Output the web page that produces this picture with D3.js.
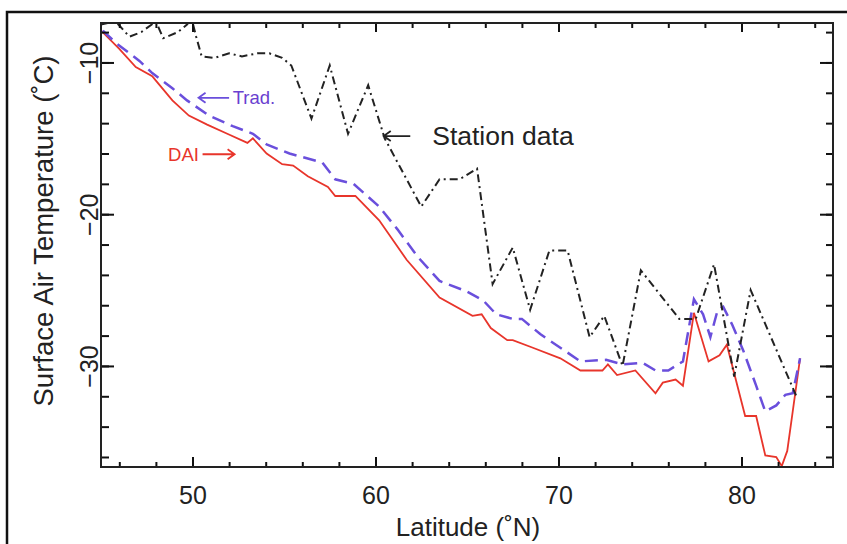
<!DOCTYPE html>
<html>
<head>
<meta charset="utf-8">
<script src="https://cdn.jsdelivr.net/npm/d3@7"></script>
<style>
  body { margin: 0; background: #fff; }
  svg { display: block; font-family: "Liberation Sans", Arial, Helvetica, sans-serif; }
</style>
</head>
<body>
<div id="chart"></div>
<script>
// station data (black dash-dot)
var stationLat = [45.0, 45.8, 46.55, 47.2, 48.0, 48.4, 49.2, 49.7, 49.95, 50.2, 50.5, 51.2, 52.0, 52.7, 53.55, 54.2, 54.9, 55.4,
    56.5, 57.5, 58.5, 59.6, 60.5, 62.5, 63.5, 64.6, 65.55, 66.4, 67.5, 68.45, 69.5, 70.5, 71.7, 72.5, 73.5, 74.5,
    76.6, 77.5, 78.5, 79.6, 80.5, 83.0];
var stationTemp = [-7.5, -7.3, -8.3, -8.0, -7.3, -8.4, -8.0, -7.5, -7.1, -8.3, -9.6, -9.7, -9.4, -9.6, -9.4, -9.4, -9.7, -10.2,
    -13.7, -10.2, -14.7, -11.5, -15.0, -19.5, -17.7, -17.7, -17.0, -24.6, -22.2, -26.3, -22.4, -22.4, -28.1, -26.7, -30.0, -23.7,
    -26.9, -26.9, -23.3, -30.7, -25.0, -32.0];

// DAI (red solid)
var daiLat = [45.0, 46.0, 46.9, 47.8, 48.0, 48.9, 49.8, 50.8, 51.9, 53.0, 53.3, 54.05, 54.9, 55.5, 56.3, 57.4, 57.8, 58.9,
    60.2, 61.7, 63.5, 65.3, 65.8, 66.3, 67.2, 67.5, 68.6, 70.1, 71.2, 71.7, 72.4, 72.7, 73.2, 74.2, 75.3, 75.7, 76.4, 76.8,
    77.4, 78.2, 78.8, 79.2, 80.2, 80.8, 81.3, 81.9, 82.2, 82.5, 82.8, 83.2];
var daiTemp = [-7.9, -9.1, -10.3, -10.9, -11.2, -12.5, -13.5, -14.1, -14.7, -15.3, -15.0, -16.0, -16.7, -16.8, -17.5, -18.2, -18.8, -18.8,
    -20.4, -23.0, -25.5, -26.7, -26.6, -27.5, -28.3, -28.3, -28.8, -29.5, -30.3, -30.3, -30.3, -29.9, -30.6, -30.3, -31.8, -31.1, -30.9, -31.3,
    -26.5, -29.7, -29.3, -28.6, -33.3, -33.3, -35.9, -36.0, -36.6, -35.6, -33.0, -29.5];

// Trad. (blue dashed)
var tradLat = [45.1, 45.8, 47.1, 47.8, 48.9, 49.7, 50.9, 52.2, 53.3, 54.05, 55.3, 57.1, 57.8, 58.8, 60.2, 61.2, 62.3, 63.5,
    65.0, 65.9, 66.6, 67.5, 68.0, 69.0, 70.1, 71.2, 72.6, 73.5, 74.6, 75.3, 76.0, 76.8, 77.4, 77.9, 78.3, 78.7, 79.0,
    79.5, 80.1, 80.8, 81.3, 81.9, 82.4, 82.8, 83.2];
var tradTemp = [-7.9, -8.7, -9.9, -10.7, -11.7, -12.5, -13.5, -14.2, -14.7, -15.4, -16.0, -16.6, -17.7, -18.0, -19.5, -21.0, -22.8, -24.4,
    -25.1, -25.7, -26.6, -26.9, -26.9, -27.9, -28.8, -29.7, -29.6, -29.9, -29.8, -30.3, -30.3, -29.7, -25.6, -26.6, -28.1, -26.3, -26.1,
    -27.3, -29.0, -31.3, -33.0, -32.6, -31.9, -31.8, -29.5];

var xMajor = [50, 60, 70, 80];
var xMinor = d3.range(46, 85, 2);
var yMajor = [-30, -20, -10];
var yMinor = d3.range(-36, -7, 2);

var width = 847, height = 544;
var plot = { left: 101, right: 833, top: 23, bottom: 467 };

var svg = d3.select("#chart").append("svg")
    .attr("width", width)
    .attr("height", height);

// outer frame (only top & left show inside the window)
svg.append("rect")
    .attr("x", 7).attr("y", 12)
    .attr("width", 900).attr("height", 600)
    .attr("fill", "none")
    .attr("stroke", "#111")
    .attr("stroke-width", 2.5);

var x = d3.scaleLinear().domain([45, 85]).range([plot.left, plot.right]);
var y = d3.scaleLinear().domain([-36.66, -7.4]).range([plot.bottom, plot.top]);

svg.append("clipPath").attr("id", "clip")
    .append("rect")
    .attr("x", plot.left).attr("y", plot.top)
    .attr("width", plot.right - plot.left).attr("height", plot.bottom - plot.top);

function toPoints(lats, temps) {
    return lats.map(function (d, i) { return [d, temps[i]]; });
}

var line = d3.line()
    .x(function (d) { return x(d[0]); })
    .y(function (d) { return y(d[1]); });

var lines = svg.append("g").attr("clip-path", "url(#clip)");

lines.append("path")
    .datum(toPoints(daiLat, daiTemp))
    .attr("fill", "none")
    .attr("stroke", "#e8352b")
    .attr("stroke-width", 1.8)
    .attr("d", line);

lines.append("path")
    .datum(toPoints(tradLat, tradTemp))
    .attr("fill", "none")
    .attr("stroke", "#6a4fdc")
    .attr("stroke-width", 2.5)
    .attr("stroke-dasharray", "13,7")
    .attr("d", line);

lines.append("path")
    .datum(toPoints(stationLat, stationTemp))
    .attr("fill", "none")
    .attr("stroke", "#222")
    .attr("stroke-width", 2)
    .attr("stroke-dasharray", "8,4,2,4")
    .attr("d", line);

// axes, ticks pointing inward on all four sides
function styleAxis(g) {
    g.select(".domain").remove();
    g.selectAll(".tick line").attr("stroke", "#111").attr("stroke-width", 2);
    g.selectAll(".tick text").attr("fill", "#222").style("font-size", "25px");
}

svg.append("g")
    .attr("transform", "translate(0," + plot.bottom + ")")
    .call(d3.axisBottom(x).tickValues(xMinor).tickSize(-5).tickFormat(""))
    .call(styleAxis);
svg.append("g")
    .attr("transform", "translate(0," + plot.bottom + ")")
    .call(d3.axisBottom(x).tickValues(xMajor).tickSize(-10).tickPadding(19).tickFormat(d3.format("d")))
    .call(styleAxis);
svg.append("g")
    .attr("transform", "translate(0," + plot.top + ")")
    .call(d3.axisTop(x).tickValues(xMinor).tickSize(-5).tickFormat(""))
    .call(styleAxis);
svg.append("g")
    .attr("transform", "translate(0," + plot.top + ")")
    .call(d3.axisTop(x).tickValues(xMajor).tickSize(-9).tickFormat(""))
    .call(styleAxis);

svg.append("g")
    .attr("transform", "translate(" + plot.left + ",0)")
    .call(d3.axisLeft(y).tickValues(yMinor).tickSize(-8).tickFormat(""))
    .call(styleAxis);
var yLeft = svg.append("g")
    .attr("transform", "translate(" + plot.left + ",0)")
    .call(d3.axisLeft(y).tickValues(yMajor).tickSize(-13).tickFormat(function (d) { return "\u2212" + Math.abs(d); }))
    .call(styleAxis);
yLeft.selectAll(".tick text")
    .attr("x", 0).attr("dy", null)
    .attr("text-anchor", "middle")
    .attr("dominant-baseline", "central")
    .attr("transform", "translate(-12,0) rotate(-90)");

svg.append("g")
    .attr("transform", "translate(" + plot.right + ",0)")
    .call(d3.axisRight(y).tickValues(yMinor).tickSize(-7).tickFormat(""))
    .call(styleAxis);
svg.append("g")
    .attr("transform", "translate(" + plot.right + ",0)")
    .call(d3.axisRight(y).tickValues(yMajor).tickSize(-13).tickFormat(""))
    .call(styleAxis);

// plot frame
svg.append("rect")
    .attr("x", plot.left).attr("y", plot.top)
    .attr("width", plot.right - plot.left).attr("height", plot.bottom - plot.top)
    .attr("fill", "none")
    .attr("stroke", "#222")
    .attr("stroke-width", 2);

// axis titles
svg.append("text")
    .attr("x", (plot.left + plot.right) / 2 + 1)
    .attr("y", 527)
    .attr("text-anchor", "middle")
    .attr("dominant-baseline", "central")
    .attr("fill", "#222")
    .style("font-size", "26px")
    .text("Latitude (\u02DAN)");

svg.append("text")
    .attr("transform", "translate(43,231) rotate(-90)")
    .attr("text-anchor", "middle")
    .attr("dominant-baseline", "central")
    .attr("fill", "#222")
    .style("font-size", "27.5px")
    .text("Surface Air Temperature (\u02DAC)");

// annotations
function arrow(x1, x2, yv, color, headLeft) {
    var ax = x(x1), bx = x(x2), py = y(yv);
    var tip = headLeft ? ax : bx;
    var dir = headLeft ? 1 : -1;
    svg.append("path")
        .attr("d", "M" + ax + "," + py + "H" + bx +
            "M" + (tip + dir * 7) + "," + (py - 5) + "L" + tip + "," + py + "L" + (tip + dir * 7) + "," + (py + 5))
        .attr("fill", "none")
        .attr("stroke", color)
        .attr("stroke-width", 1.8);
}

arrow(60.45, 61.9, -14.85, "#222", true);
svg.append("text")
    .attr("x", x(63.1)).attr("y", y(-14.85))
    .attr("dominant-baseline", "central")
    .attr("fill", "#222")
    .style("font-size", "26.5px")
    .text("Station data");

arrow(50.33, 52.0, -12.33, "#6a4fdc", true);
svg.append("text")
    .attr("x", x(52.2)).attr("y", y(-12.33))
    .attr("dominant-baseline", "central")
    .attr("fill", "#6a3fd0")
    .style("font-size", "18.5px")
    .text("Trad.");

arrow(50.55, 52.3, -16.05, "#e8352b", false);
svg.append("text")
    .attr("x", x(50.35)).attr("y", y(-16.05))
    .attr("text-anchor", "end")
    .attr("dominant-baseline", "central")
    .attr("fill", "#e8352b")
    .style("font-size", "18.5px")
    .text("DAI");
</script>
</body>
</html>
